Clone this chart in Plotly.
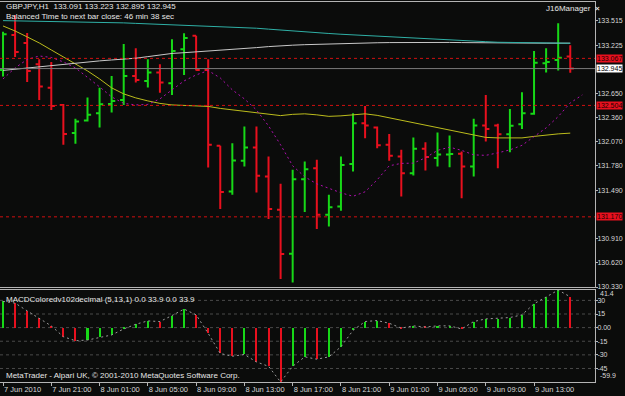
import plotly.graph_objects as go

# ---------------- data ----------------
bar_index = list(range(48))
opens = [132.929, 133.348, 133.252, 132.997, 132.714, 132.510, 132.175, 132.322, 132.411, 132.522,
         132.570, 132.857, 132.797, 132.897, 132.770, 133.177, 133.339, 132.929, 132.020, 131.473,
         131.840, 131.999, 131.652, 131.254, 130.728, 131.621, 131.753, 131.194, 131.294, 131.804,
         132.291, 132.239, 132.032, 131.892, 131.693, 131.984, 131.873, 131.916, 131.924, 131.772,
         132.263, 132.263, 132.160, 132.279, 132.403, 133.009, 133.049, 133.091]
highs = [133.387, 133.587, 133.371, 133.057, 133.025, 132.522, 132.343, 132.598, 132.714, 132.857,
         133.240, 133.188, 133.057, 132.997, 133.296, 133.368, 133.339, 133.057, 132.020, 132.052,
         132.251, 132.251, 131.892, 131.565, 131.733, 131.832, 131.852, 131.434, 131.892, 132.411,
         132.498, 132.251, 132.163, 131.972, 132.119, 132.064, 132.179, 132.143, 131.952, 132.343,
         132.630, 132.283, 132.462, 132.662, 133.156, 133.188, 133.487, 133.223]
lows = [132.849, 133.084, 132.785, 132.570, 132.450, 132.032, 132.044, 132.310, 132.239, 132.418,
        132.510, 132.777, 132.717, 132.657, 132.630, 132.869, 132.921, 131.760, 131.263, 131.434,
        131.772, 131.461, 131.143, 130.425, 130.385, 131.227, 131.023, 131.054, 131.242, 131.712,
        132.112, 131.992, 131.840, 131.413, 131.665, 131.724, 131.772, 131.765, 131.394, 131.652,
        132.071, 131.753, 131.944, 132.223, 132.391, 132.897, 132.921, 132.895]
closes = [133.356, 133.144, 132.917, 132.729, 132.498, 132.163, 132.310, 132.391, 132.519, 132.558,
          132.857, 132.809, 132.897, 132.777, 133.156, 133.312, 132.929, 132.032, 131.466, 131.844,
          131.999, 131.661, 131.263, 130.724, 131.621, 131.741, 131.194, 131.286, 131.792, 132.291,
          132.263, 132.028, 131.900, 131.693, 131.984, 131.885, 131.916, 131.921, 131.772, 132.263,
          132.223, 132.160, 132.259, 132.411, 133.016, 133.025, 133.076, 132.945]

ma_teal = [133.519, 133.517, 133.515, 133.513, 133.511, 133.509, 133.507, 133.505, 133.503, 133.497,
           133.492, 133.486, 133.481, 133.475, 133.470, 133.464, 133.459, 133.453, 133.447, 133.440,
           133.434, 133.428, 133.417, 133.405, 133.394, 133.383, 133.374, 133.365, 133.356, 133.348,
           133.340, 133.331, 133.323, 133.315, 133.308, 133.301, 133.295, 133.288, 133.281, 133.274,
           133.267, 133.260, 133.258, 133.256, 133.254, 133.252, 133.250, 133.248]
ma_silver = [132.923, 132.938, 132.953, 132.968, 132.983, 132.997, 133.010, 133.024, 133.037, 133.048,
             133.058, 133.069, 133.088, 133.107, 133.126, 133.135, 133.144, 133.154, 133.164, 133.174,
             133.185, 133.196, 133.208, 133.220, 133.225, 133.231, 133.236, 133.240, 133.244, 133.248,
             133.252, 133.254, 133.256, 133.258, 133.258, 133.258, 133.258, 133.258, 133.256, 133.254,
             133.251, 133.249, 133.249, 133.249, 133.249, 133.249, 133.249, 133.249]
ma_yellow = [133.455, 133.395, 133.324, 133.252, 133.168, 133.084, 133.001, 132.917, 132.821, 132.714,
             132.642, 132.594, 132.558, 132.528, 132.510, 132.504, 132.504, 132.492, 132.468, 132.450,
             132.433, 132.418, 132.397, 132.382, 132.397, 132.403, 132.391, 132.373, 132.379, 132.391,
             132.403, 132.385, 132.355, 132.331, 132.301, 132.271, 132.241, 132.211, 132.181, 132.145,
             132.121, 132.115, 132.112, 132.115, 132.133, 132.151, 132.163, 132.172]
ma_magenta_index = list(range(49))
ma_magenta = [132.821, 132.953, 133.054, 133.096, 133.078, 133.025, 132.953, 132.845, 132.726, 132.606,
              132.528, 132.510, 132.516, 132.582, 132.690, 132.797, 132.869, 132.921, 132.833, 132.690,
              132.582, 132.450, 132.259, 132.032, 131.781, 131.649, 131.565, 131.511, 131.458, 131.416,
              131.470, 131.613, 131.781, 131.810, 131.813, 131.876, 131.966, 132.004, 131.966, 131.912,
              131.906, 131.936, 131.972, 132.026, 132.127, 132.235, 132.370, 132.534, 132.630]

macd = [28.9, 27.0, 18.5, 10.4, 1.9, -10.0, -14.4, -13.7, -10.7, -8.1,
        -1.5, 3.7, 7.4, 6.7, 13.3, 20.4, 14.1, -6.3, -28.5, -31.5,
        -29.6, -37.8, -42.6, -59.9, -42.6, -32.2, -34.8, -32.2, -21.1, -3.0,
        6.7, 7.8, 4.8, -0.5, 1.9, 0.7, 1.9, 2.0, -1.5, 6.7,
        9.6, 10.0, 11.1, 14.1, 26.3, 33.7, 41.4, 33.9]
macd_levels = [30, 15, 0, -15, -30, -45]
macd_max, macd_min = 41.4, -59.9

alert_levels = [133.067, 132.504, 131.170]
alert_labels = ["133.067", "132.504", "131.170"]
bid_level = 132.945
bid_label = "132.945"

price_ticks = [133.515, 133.225, 132.650, 132.360, 132.070, 131.780, 131.490, 130.910, 130.620, 130.330]
price_ticktext = ["133.515", "133.225", "132.650", "132.360", "132.070", "131.780", "131.490",
                  "130.910", "130.620", "130.330"]
macd_ticks = [30, 15, 0, -15, -30, -45]
macd_ticktext = ["30", "15", "0.00", "-15", "-30", "-45"]
time_ticks = [0, 4, 8, 12, 16, 20, 24, 28, 32, 36, 40, 44]
time_labels = ["7 Jun 2010", "7 Jun 21:00", "8 Jun 01:00", "8 Jun 05:00", "8 Jun 09:00",
               "8 Jun 13:00", "8 Jun 17:00", "8 Jun 21:00", "9 Jun 01:00", "9 Jun 05:00",
               "9 Jun 09:00", "9 Jun 13:00"]

# ---------------- style ----------------
BG = "#0b0c0b"
GREEN = "#17d817"
RED = "#e8101e"
FRAME = "#b4b4b4"
TXT = "#e6e6e6"
FONT = "Liberation Sans Narrow, Liberation Sans, Arial, sans-serif"
XD = [0, 595 / 625]

fig = go.Figure()
fig.add_trace(go.Ohlc(
    x=bar_index, open=opens, high=highs, low=lows, close=closes,
    increasing=dict(line=dict(color=GREEN, width=2)),
    decreasing=dict(line=dict(color=RED, width=2)),
    tickwidth=0.3, hoverinfo="skip", xaxis="x", yaxis="y"))

for vals, col in [(ma_yellow, "#bcbc1c"), (ma_silver, "#c8c8c8"), (ma_teal, "#2fb0a6")]:
    fig.add_trace(go.Scatter(x=bar_index, y=vals, mode="lines",
                             line=dict(color=col, width=1),
                             hoverinfo="skip", xaxis="x", yaxis="y"))
fig.add_trace(go.Scatter(x=ma_magenta_index, y=ma_magenta, mode="lines",
                         line=dict(color="#b010b0", width=1, dash="2px,3px"),
                         hoverinfo="skip", xaxis="x", yaxis="y"))

macd_colors = [GREEN] + [GREEN if macd[i] > macd[i - 1] else RED for i in range(1, len(macd))]
fig.add_trace(go.Bar(x=bar_index, y=macd, width=0.17, marker=dict(color=macd_colors, line=dict(width=0)),
                     hoverinfo="skip", xaxis="x2", yaxis="y2"))
fig.add_trace(go.Scatter(x=bar_index, y=macd, mode="lines",
                         line=dict(color="#9a9a9a", width=1, dash="2px,3px"),
                         hoverinfo="skip", xaxis="x2", yaxis="y2"))

shapes = []
for lv in alert_levels:
    shapes.append(dict(type="line", xref="x domain", yref="y", x0=0, x1=1, y0=lv, y1=lv,
                       line=dict(color="#d01010", width=1, dash="3px,3px")))
shapes.append(dict(type="line", xref="x domain", yref="y", x0=0, x1=1, y0=bid_level, y1=bid_level,
                   line=dict(color="#7a7a7a", width=1)))
for lv in macd_levels:
    shapes.append(dict(type="line", xref="x2 domain", yref="y2", x0=0, x1=1, y0=lv, y1=lv,
                       line=dict(color="#4a4a4a", width=1, dash="3px,3px"), layer="below"))

LBL = 7
annotations = []
for lv, lab in zip(alert_levels, alert_labels):
    annotations.append(dict(xref="paper", yref="y", x=XD[1] + 1 / 625, y=lv, xanchor="left",
                            yanchor="middle", text=lab, showarrow=False, bgcolor=RED,
                            font=dict(family=FONT, size=LBL, color="#1a0000"), borderpad=0))
annotations.append(dict(xref="paper", yref="y", x=XD[1] + 1 / 625, y=bid_level, xanchor="left",
                        yanchor="middle", text=bid_label, showarrow=False, bgcolor="#ffffff",
                        font=dict(family=FONT, size=LBL, color="#000000"), borderpad=0))
# top / bottom scale labels of the MACD window
annotations.append(dict(xref="paper", yref="y2", x=XD[1] + 3 / 625, y=macd_max, xanchor="left",
                        yanchor="top", yshift=2, text=f"{macd_max}", showarrow=False,
                        font=dict(family=FONT, size=LBL, color="#d8d8d8")))
annotations.append(dict(xref="paper", yref="y2", x=XD[1] + 3 / 625, y=macd_min, xanchor="left",
                        yanchor="bottom", yshift=1, text=f"{macd_min}", showarrow=False,
                        font=dict(family=FONT, size=LBL, color="#d8d8d8")))

def ptxt(text, x_px, y_px, anchor="left", size=8):
    return dict(xref="paper", yref="paper", x=x_px / 625, y=(382 - y_px) / 380,
                xanchor=anchor, yanchor="middle", text=text, showarrow=False,
                font=dict(family=FONT, size=size, color=TXT))

annotations += [
    ptxt("GBPJPY,H1  133.091 133.223 132.895 132.945", 4, 6.5),
    ptxt("Balanced Time to next bar close: 46 min 38 sec", 4, 16.5),
    ptxt("J16Manager  <b>×</b>", 544, 9),
    ptxt("MACDColoredv102decimal (5,13,1) 0.0 33.9 0.0 33.9", 4, 299),
    ptxt("MetaTrader - Alpari UK, © 2001-2010 MetaQuotes Software Corp.", 4, 375),
]

axfont = dict(family=FONT, size=LBL, color="#d8d8d8")
xfont = dict(family=FONT, size=7.5, color="#d8d8d8")
fig.update_layout(
    width=625, height=396, margin=dict(l=0, r=0, t=2, b=14, autoexpand=False),
    paper_bgcolor=BG, plot_bgcolor=BG, showlegend=False, bargap=0,
    font=dict(family=FONT, color=TXT),
    xaxis=dict(domain=XD, range=[-0.25, 49.05], anchor="y", showticklabels=False, showgrid=False,
               zeroline=False, showline=True, mirror=True, linecolor=FRAME, ticks="",
               rangeslider=dict(visible=False), automargin=False),
    yaxis=dict(domain=[0.25, 1], range=[130.33, 133.742], anchor="x", side="right",
               tickvals=price_ticks, ticktext=price_ticktext, ticks="outside", ticklen=2,
               tickcolor=FRAME, showgrid=False, zeroline=False, showline=True, mirror=True,
               linecolor=FRAME, tickfont=axfont, automargin=False, ticklabelstandoff=-2),
    xaxis2=dict(domain=XD, range=[-0.25, 49.05], anchor="y2", matches="x", showgrid=False,
                zeroline=False, showline=True, mirror=True, linecolor=FRAME,
                tickvals=time_ticks, ticktext=time_labels, ticks="outside", ticklen=3,
                tickcolor=FRAME, ticklabelposition="outside right", tickangle=0,
                tickfont=xfont, automargin=False),
    yaxis2=dict(domain=[0, 0.242], range=[macd_min, macd_max], anchor="x2", side="right",
                tickvals=macd_ticks, ticktext=macd_ticktext, ticks="outside", ticklen=2,
                tickcolor=FRAME, showgrid=False, zeroline=False, showline=True, mirror=True,
                linecolor=FRAME, tickfont=axfont, automargin=False, ticklabelstandoff=-2),
    shapes=shapes, annotations=annotations,
)

fig.write_html("out.html")
